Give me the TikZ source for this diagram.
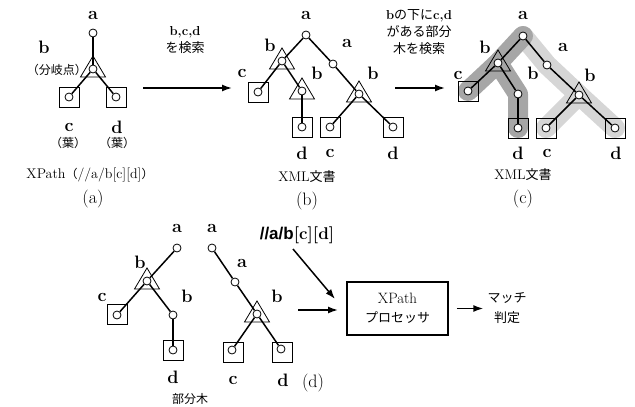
\documentclass[tikz,border=0pt]{standalone}
\usepackage{fontspec}
\newfontfamily\jp{Noto Sans CJK JP}
\newfontfamily\qsans{Liberation Sans}
\usetikzlibrary{arrows.meta,calc}
\pgfdeclarelayer{bg}
\pgfsetlayers{bg,main}
\newcommand\mytri[1]{\draw[tri] ($(#1)+(0,-13)$) -- ($(#1)+(12.5,8)$) -- ($(#1)+(-12.5,8)$) -- cycle;}
\begin{document}
\begin{tikzpicture}[x=1pt,y=-1pt,
 lbl/.style={font=\fontsize{18}{18}\selectfont\bfseries, inner sep=0pt},
 jtxt/.style={font=\fontsize{13}{17}\selectfont\jp, inner sep=0pt, align=center},
 jsm/.style={font=\fontsize{12}{14}\selectfont\jp, inner sep=0pt},
 rtxt/.style={font=\fontsize{14}{15}\selectfont, inner sep=0pt},
 captxt/.style={font=\fontsize{18}{18}\selectfont, inner sep=0pt},
 circ/.style={circle, draw, fill=white, minimum size=8pt, inner sep=0pt, line width=0.8pt},
 sq/.style={rectangle, draw, minimum size=20pt, inner sep=0pt, line width=0.8pt},
 tri/.style={draw, line width=0.8pt, line join=miter},
 edge/.style={line width=1.5pt},
 arr/.style={line width=1.5pt, -{Latex[length=10pt,width=7pt]}},
 darkband/.style={line width=20pt, line cap=round, line join=round, draw=black!35},
 lightband/.style={line width=20pt, line cap=round, line join=round, draw=black!16},
]
\useasboundingbox (0,0) rectangle (635,407);

% ---------------- panel (a)
\node[sq] (sqaC) at (69,97) {};
\node[sq] (sqaD) at (116,97) {};
\mytri{93,69}
\node[circ] (aA) at (93,33) {};
\node[circ] (aB) at (93,69) {};
\node[circ] (aC) at (69,97) {};
\node[circ] (aD) at (116,97) {};
\draw[edge] (aA) -- (aB);
\draw[edge] (aB) -- (aC);
\draw[edge] (aB) -- (aD);
\node[lbl] (laA) at (93,15) {a};
\node[lbl] (laB) at (44,47) {b};
\node[jsm] (laBr) at (57,70) {（分岐点）};
\node[lbl] (laC) at (69,127) {c};
\node[lbl] (laD) at (117,127) {d};
\node[jsm] (laCl) at (68,143) {（葉）};
\node[jsm] (laDl) at (117,143) {（葉）};
\node[rtxt] (laXP) at (90,175) {XPath{\jp\fontsize{12}{14}\selectfont （}//a/b[c][d]{\jp\fontsize{12}{14}\selectfont ）}};
\node[captxt] (capa) at (93,199) {(a)};

% arrow (a)->(b)
\coordinate (ar1s) at (143,88);
\coordinate (ar1e) at (232,88);
\draw[arr] (ar1s) -- (ar1e);
\node[jtxt] (ar1t) at (185,40) {{\rmfamily\bfseries b,c,d}\\を検索};

% ---------------- panel (b)
\node[sq] (sqbC1) at (258,92) {};
\node[sq] (sqbD1) at (302,127) {};
\node[sq] (sqbC2) at (330,127) {};
\node[sq] (sqbD2) at (393,127) {};
\mytri{282,61}
\mytri{302,91}
\mytri{359,94}
\node[circ] (bA1) at (306,35) {};
\node[circ] (bB1) at (282,61) {};
\node[circ] (bC1) at (258,92) {};
\node[circ] (bB2) at (302,91) {};
\node[circ] (bD1) at (302,127) {};
\node[circ] (bA2) at (333,64) {};
\node[circ] (bB3) at (359,94) {};
\node[circ] (bC2) at (330,127) {};
\node[circ] (bD2) at (393,127) {};
\draw[edge] (bA1) -- (bB1);
\draw[edge] (bB1) -- (bC1);
\draw[edge] (bB1) -- (bB2);
\draw[edge] (bB2) -- (bD1);
\draw[edge] (bA1) -- (bA2);
\draw[edge] (bA2) -- (bB3);
\draw[edge] (bB3) -- (bC2);
\draw[edge] (bB3) -- (bD2);
\node[lbl] (lbA1) at (306,15) {a};
\node[lbl] (lbB1) at (270,45) {b};
\node[lbl] (lbC1) at (242,73) {c};
\node[lbl] (lbB2) at (317,73) {b};
\node[lbl] (lbA2) at (347,43) {a};
\node[lbl] (lbB3) at (373,73) {b};
\node[lbl] (lbD1) at (302,153) {d};
\node[lbl] (lbC2) at (330,153) {c};
\node[lbl] (lbD2) at (393,153) {d};
\node[rtxt] (lbXML) at (307,177) {XML{\jp\fontsize{13}{15}\selectfont 文書}};
\node[captxt] (capb) at (307,201) {(b)};

% arrow (b)->(c)
\coordinate (ar2s) at (395,88);
\coordinate (ar2e) at (445,88);
\draw[arr] (ar2s) -- (ar2e);
\node[jtxt] (ar2t) at (419,32) {{\rmfamily\bfseries b}の下に{\rmfamily\bfseries c,d}\\がある部分\\木を検索};

% ---------------- panel (c)
\node[sq] (sqcC1) at (468,91) {};
\node[sq] (sqcD1) at (518,128) {};
\node[sq] (sqcC2) at (546,128) {};
\node[sq] (sqcD2) at (615,128) {};
\mytri{498,63}
\mytri{579,95}
\node[circ] (cA1) at (523,36) {};
\node[circ] (cB1) at (498,63) {};
\node[circ] (cC1) at (468,91) {};
\node[circ] (cB2) at (518,94) {};
\node[circ] (cD1) at (518,128) {};
\node[circ] (cA2) at (547,65) {};
\node[circ] (cB3) at (579,95) {};
\node[circ] (cC2) at (546,128) {};
\node[circ] (cD2) at (615,128) {};
\draw[edge] (cA1) -- (cB1);
\draw[edge] (cB1) -- (cC1);
\draw[edge] (cB1) -- (cB2);
\draw[edge] (cB2) -- (cD1);
\draw[edge] (cA1) -- (cA2);
\draw[edge] (cA2) -- (cB3);
\draw[edge] (cB3) -- (cC2);
\draw[edge] (cB3) -- (cD2);
\begin{pgfonlayer}{bg}
\draw[lightband] (cA1.center) -- (cA2.center) -- (cB3.center) -- (cD2.center);
\draw[lightband] (cB3.center) -- (cC2.center);
\draw[darkband] (cC1.center) -- (cB1.center) -- (cA1.center);
\draw[darkband] (cB1.center) -- (cB2.center) -- (cD1.center);
\end{pgfonlayer}
\node[lbl] (lcA1) at (523,15) {a};
\node[lbl] (lcB1) at (485,47) {b};
\node[lbl] (lcC1) at (458,75) {c};
\node[lbl] (lcB2) at (533,73) {b};
\node[lbl] (lcA2) at (563,47) {a};
\node[lbl] (lcB3) at (590,75) {b};
\node[lbl] (lcD1) at (518,153) {d};
\node[lbl] (lcC2) at (547,153) {c};
\node[lbl] (lcD2) at (616,153) {d};
\node[rtxt] (lcXML) at (523,175) {XML{\jp\fontsize{13}{15}\selectfont 文書}};
\node[captxt] (capc) at (523,199) {(c)};

% ---------------- panel (d)
\node[sq] (sqdC1) at (117,314) {};
\node[sq] (sqdD1) at (173,350) {};
\node[sq] (sqdC2) at (233,352) {};
\node[sq] (sqdD2) at (282,352) {};
\mytri{147,281}
\mytri{257,314}
\node[circ] (dA1) at (177,248) {};
\node[circ] (dB1) at (147,281) {};
\node[circ] (dC1) at (117,315) {};
\node[circ] (dB2) at (173,315) {};
\node[circ] (dD1) at (173,350) {};
\node[circ] (dA2) at (212,248) {};
\node[circ] (dA3) at (235,282) {};
\node[circ] (dB3) at (257,314) {};
\node[circ] (dC2) at (232,350) {};
\node[circ] (dD2) at (281,349) {};
\draw[edge] (dA1) -- (dB1);
\draw[edge] (dB1) -- (dC1);
\draw[edge] (dB1) -- (dB2);
\draw[edge] (dB2) -- (dD1);
\draw[edge] (dA2) -- (dA3);
\draw[edge] (dA3) -- (dB3);
\draw[edge] (dB3) -- (dC2);
\draw[edge] (dB3) -- (dD2);
\node[lbl] (ldA1) at (177,228) {a};
\node[lbl] (ldB1) at (140,262) {b};
\node[lbl] (ldC1) at (102,297) {c};
\node[lbl] (ldB2) at (187,296) {b};
\node[lbl] (ldD1) at (173,377) {d};
\node[lbl] (ldA2) at (212,228) {a};
\node[lbl] (ldA3) at (242,263) {a};
\node[lbl] (ldB3) at (277,296) {b};
\node[lbl] (ldC2) at (233,380) {c};
\node[lbl] (ldD2) at (283,380) {d};
\node[jsm] (ldsub) at (190,399) {部分木};
\node[captxt] (capd) at (313,383) {(d)};

\node[font=\fontsize{17}{17}\selectfont\bfseries, inner sep=0pt] (query) at (297,235) {{\qsans\bfseries //a/b}[c][d]};
\node[draw, line width=1.5pt, minimum width=101pt, minimum height=53pt, inner sep=0pt, align=center, font=\fontsize{15}{19}\selectfont] (proc) at (397.5,308.5) {XPath\\{\jp\fontsize{13}{19}\selectfont プロセッサ}};
\node[jtxt, font=\fontsize{13}{20}\selectfont\jp] (res) at (507,308) {マッチ\\判定};
\coordinate (qs) at (293,249);
\coordinate (qe) at (335,299);
\draw[arr] (qs) -- (qe);
\coordinate (hs) at (298,310);
\coordinate (he) at (338,310);
\draw[arr] (hs) -- (he);
\draw[arr, shorten >=4pt] ([xshift=8pt]proc.east) -- (res.west |- proc.east);
\end{tikzpicture}
\end{document}
